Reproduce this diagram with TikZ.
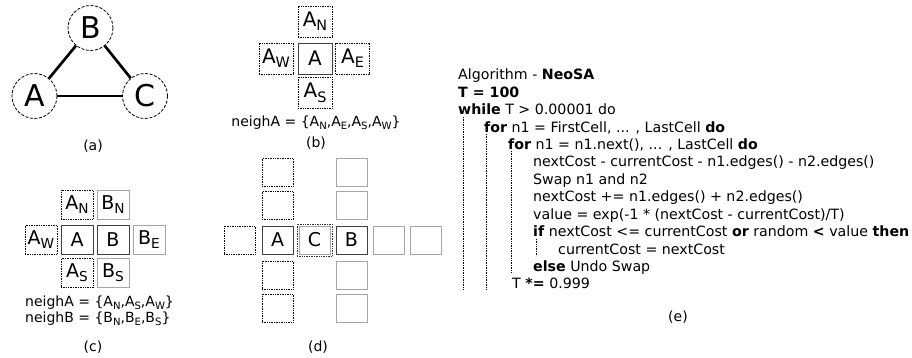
\documentclass[tikz,border=0pt]{standalone}
\usepackage{fontspec}
\setmainfont{DejaVu Sans}
\newcommand\sbs[1]{\raisebox{-0.22em}{\scalebox{0.72}{#1}}}
\begin{document}
\begin{tikzpicture}[x=1pt,y=-1pt,
  circ/.style={circle,draw,dash pattern=on 3pt off 1.6pt,line width=0.8pt,minimum size=45pt,inner sep=0pt,font=\fontsize{30}{30}\selectfont},
  edge/.style={line width=2.7pt},
  boxb/.style={rectangle,minimum width=34pt,minimum height=31pt,inner sep=0pt,font=\fontsize{20}{20}\selectfont},
  boxc/.style={rectangle,minimum width=32pt,minimum height=29pt,inner sep=0pt,font=\fontsize{19}{19}\selectfont},
  boxd/.style={rectangle,minimum width=31pt,minimum height=28pt,inner sep=0pt,font=\fontsize{19}{19}\selectfont},
  dotb/.style={draw=black,densely dotted,line width=0.7pt},
  grayb/.style={draw=black!35,line width=0.8pt},
  mainb/.style={draw=black!75,line width=0.9pt},
  lbl/.style={font=\fontsize{14}{14}\selectfont},
  neigh/.style={font=\fontsize{14}{16}\selectfont,align=left},
  alg/.style={anchor=base west,inner sep=0pt,font=\fontsize{14.2}{14.2}\selectfont},
  guide/.style={densely dotted,line width=0.7pt}]
\useasboundingbox (0,0) rectangle (912,358);
% (a)
\node[circ] (B) at (90.5,28) {B};
\node[circ] (A) at (34.5,96) {A};
\node[circ] (C) at (145,96) {C};
\draw[edge] (A) -- (B);
\draw[edge] (B) -- (C);
\draw[edge] (A) -- (C);
\node[lbl] (la) at (93,146) {(a)};
% (b)
\node[boxb,mainb] (bA) at (315,58.5) {A};
\node[boxb,dotb] (bAN) at (315,21.5) {A\sbs{N}};
\node[boxb,dotb] (bAS) at (315,93) {A\sbs{S}};
\node[boxb,dotb] (bAW) at (276,58.5) {A\sbs{W}};
\node[boxb,dotb] (bAE) at (352.5,58.5) {A\sbs{E}};
\node[neigh] (nb) at (316,123) {neighA = \{A\sbs{N},A\sbs{E},A\sbs{S},A\sbs{W}\}};
\node[lbl] (lb) at (316,143) {(b)};
% (c)
\node[boxc,mainb] (cA) at (77,239.5) {A};
\node[boxc,mainb] (cB) at (113,239.5) {B};
\node[boxc,dotb] (cAN) at (77,204.5) {A\sbs{N}};
\node[boxc,dotb] (cAS) at (77,273) {A\sbs{S}};
\node[boxc,dotb] (cAW) at (41,239.5) {A\sbs{W}};
\node[boxc,grayb] (cBN) at (113,204.5) {B\sbs{N}};
\node[boxc,grayb] (cBS) at (113,273) {B\sbs{S}};
\node[boxc,grayb] (cBE) at (149,239.5) {B\sbs{E}};
\node[neigh,anchor=west,inner sep=0pt] (nc) at (25,311) {neighA = \{A\sbs{N},A\sbs{S},A\sbs{W}\}\\neighB = \{B\sbs{N},B\sbs{E},B\sbs{S}\}};
\node[lbl] (lc) at (93,347) {(c)};
% (d)
\node[boxd,mainb] (dA) at (277.5,240) {A};
\node[boxd,grayb] (dC) at (314.5,240) {C};
\node[rectangle,minimum width=35pt,minimum height=32pt,inner sep=0pt,dotb,draw=black!80] (dCo) at (dC) {};
\node[boxd,mainb] (dB) at (351.5,240) {B};
\node[boxd,dotb] (dW) at (239.5,240) {};
\node[boxd,dotb] (dN1) at (277.5,205.5) {};
\node[boxd,dotb] (dN2) at (277.5,172.5) {};
\node[boxd,dotb] (dS1) at (277.5,275) {};
\node[boxd,dotb] (dS2) at (277.5,308) {};
\node[boxd,grayb] (dBN1) at (351.5,205.5) {};
\node[boxd,grayb] (dBN2) at (351.5,172.5) {};
\node[boxd,grayb] (dBS1) at (351.5,275) {};
\node[boxd,grayb] (dBS2) at (351.5,308) {};
\node[boxd,grayb] (dE1) at (389,240) {};
\node[boxd,grayb] (dE2) at (425.5,240) {};
\node[lbl] (ld) at (318,347) {(d)};
% (e)
\node[alg] (e1) at (458,80) {Algorithm - \textbf{NeoSA}};
\node[alg] (e2) at (458,97.4) {\textbf{T = 100}};
\node[alg] (e3) at (458,114.8) {\textbf{while} T > 0.00001 do};
\node[alg] (e4) at (484,132.2) {\textbf{for} n1 = FirstCell, ... , LastCell \textbf{do}};
\node[alg] (e5) at (508,149.6) {\textbf{for} n1 = n1.next(), ... , LastCell \textbf{do}};
\node[alg] (e6) at (533,167) {nextCost - currentCost - n1.edges() - n2.edges()};
\node[alg] (e7) at (533,184.4) {Swap n1 and n2};
\node[alg] (e8) at (533,201.8) {nextCost += n1.edges() + n2.edges()};
\node[alg] (e9) at (533,219.2) {value = exp(-1 * (nextCost - currentCost)/T)};
\node[alg] (e10) at (533,236.6) {\textbf{if} nextCost <= currentCost \textbf{or} random \textbf{<} value \textbf{then}};
\node[alg] (e11) at (558,254) {currentCost = nextCost};
\node[alg] (e12) at (533,271.4) {\textbf{else} Undo Swap};
\node[alg] (e13) at (512,288.8) {T \textbf{*=} 0.999};
\coordinate (g1a) at (463,117);
\coordinate (g1b) at (463,290);
\coordinate (g2a) at (486,134);
\coordinate (g2b) at (486,290);
\coordinate (g3a) at (511,151);
\coordinate (g3b) at (511,273);
\coordinate (g4a) at (536,239);
\coordinate (g4b) at (536,256);
\draw[guide] (g1a) -- (g1b);
\draw[guide] (g2a) -- (g2b);
\draw[guide] (g3a) -- (g3b);
\draw[guide] (g4a) -- (g4b);
\node[lbl] (le) at (678,317) {(e)};
\end{tikzpicture}
\end{document}
